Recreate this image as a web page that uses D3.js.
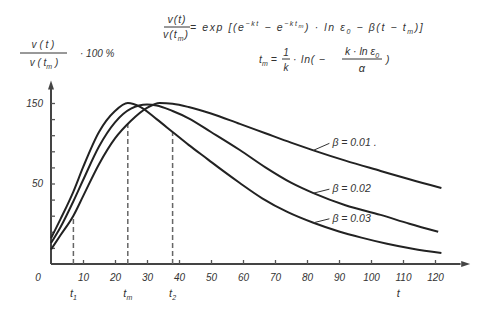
<!DOCTYPE html>
<html><head><meta charset="utf-8">
<script src="https://cdn.jsdelivr.net/npm/d3@7"></script>
<style>
html,body{margin:0;padding:0;background:#fff;}
svg{display:block;}
text{font-family:"Liberation Sans",Arial,sans-serif;font-style:italic;fill:#333;}
</style></head>
<body>
<script>
// ---- data ----
const tB003 = [0,3,7,10,15,20,24,28,33,38,43,49,54,59,66,74,82,90,97,105,113,122];
const vB003 = [16,28,45,60,82,95,100,97.5,90,82,74,65,57.5,50.3,40.8,32.2,25.6,20.2,16.4,12.6,9.5,6.8];
const tB002 = [0,3,7,10,15,20,25,30,33,38,43,50,59,67,75,82,92,103,112,121];
const vB002 = [13,23,39,52,73,88,96.5,99,98.5,95,90.5,82,70.8,60,50.5,44,36.5,30.5,25,20];
const tB001 = [0,3,7,10,15,20,25,30,34,38,43,50,59,67,75,82,92,103,112,122];
const vB001 = [9,18,30,42,62,78,89,97,100,99.5,97.5,93.5,87,81.2,75.4,70.6,64.2,57.8,52.6,47.2];
const seriesLabels = ["β = 0.01 .","β = 0.02","β = 0.03"];
const labelAnchorT = [82,82,82];
const xTicks = [10,20,30,40,50,60,70,80,90,100,110,120];
const yTicks = [10,20,30,40,50,60,70,80,90,100];
const yTickLabels = {50:"50",100:"150"};
const markT = [7,24,38];
const markV = [29,88,82];
const markNames = [["t","1"],["t","m"],["t","2"]];

const W=484,H=316;
const svg=d3.select("body").append("svg").attr("width",W).attr("height",H);
const x=d3.scaleLinear().domain([0,120]).range([51,435]);
const y=d3.scaleLinear().domain([0,100]).range([264,103]);
const ink="#222", axisC="#444";

// axes lines with arrows
svg.append("line").attr("x1",x(0)).attr("x2",x(128)).attr("y1",y(0)).attr("y2",y(0))
  .attr("stroke",axisC).attr("stroke-width",2);
svg.append("path").attr("d",`M${x(131)},${y(0)}l-9,-3l0,6z`).attr("fill",axisC);
svg.append("line").attr("x1",x(0)).attr("x2",x(0)).attr("y1",y(0)).attr("y2",y(111))
  .attr("stroke",axisC).attr("stroke-width",2);
svg.append("path").attr("d",`M${x(0)},${y(114)}l-3,9l6,0z`).attr("fill",axisC);

// x axis ticks
const gx=svg.append("g").attr("transform",`translate(0,${y(0)})`)
  .call(d3.axisBottom(x).tickValues(xTicks).tickSize(-4).tickPadding(10).tickFormat(d=>d));
gx.select(".domain").remove();
gx.selectAll(".tick line").attr("stroke","#555").attr("stroke-width",1.3);
gx.selectAll(".tick text").attr("font-size",10).attr("fill","#333").attr("font-family","Liberation Sans").attr("font-style","italic");
svg.append("text").attr("x",x(0)-13).attr("y",y(0)+17).attr("text-anchor","middle").attr("font-size",10).text("0");

// y axis ticks
const gy=svg.append("g").attr("transform",`translate(${x(0)},0)`)
  .call(d3.axisLeft(y).tickValues(yTicks).tickSize(-4).tickPadding(8).tickFormat(d=>yTickLabels[d]||""));
gy.select(".domain").remove();
gy.selectAll(".tick line").attr("stroke","#555").attr("stroke-width",1.3);
gy.selectAll(".tick text").attr("font-size",10).attr("fill","#333").attr("font-family","Liberation Sans").attr("font-style","italic");

// dashed markers
markT.forEach((t,i)=>{
  svg.append("line").attr("x1",x(t)).attr("x2",x(t)).attr("y1",y(0)).attr("y2",y(markV[i]))
    .attr("stroke","#666").attr("stroke-width",1.5).attr("stroke-dasharray","5,3");
  const tx=svg.append("text").attr("x",x(t)).attr("y",y(0)+33).attr("text-anchor","middle").attr("font-size",11);
  tx.append("tspan").text(markNames[i][0]);
  tx.append("tspan").attr("font-size",7).attr("dy",3).text(markNames[i][1]);
});
svg.append("text").attr("x",x(108.5)).attr("y",y(0)+33).attr("text-anchor","middle").attr("font-size",11).text("t");

// curves
const line=d3.line().x(d=>x(d[0])).y(d=>y(d[1])).curve(d3.curveMonotoneX);
const series=[[tB001,vB001],[tB002,vB002],[tB003,vB003]];
series.forEach(s=>{
  svg.append("path").datum(s[0].map((t,i)=>[t,s[1][i]])).attr("d",line)
    .attr("fill","none").attr("stroke",ink).attr("stroke-width",2);
});

// series labels with leaders
const labelDy=[-7,-4,-4];
series.forEach((s,i)=>{
  const t=labelAnchorT[i];
  const v=d3.scaleLinear().domain(s[0]).range(s[1])(t);
  const px=x(t), py=y(v);
  svg.append("line").attr("x1",px).attr("y1",py).attr("x2",px+16).attr("y2",py+labelDy[i])
    .attr("stroke","#333").attr("stroke-width",1);
  svg.append("text").attr("x",px+19).attr("y",py+labelDy[i]+3).attr("font-size",10.5).text(seriesLabels[i]);
});

// y label fraction
const yl=svg.append("g");
yl.append("text").attr("x",43).attr("y",48).attr("text-anchor","middle").attr("font-size",10).text("v ( t )");
yl.append("line").attr("x1",20).attr("x2",67).attr("y1",53).attr("y2",53).attr("stroke","#333").attr("stroke-width",1);
const yd=yl.append("text").attr("x",44).attr("y",66).attr("text-anchor","middle").attr("font-size",10);
yd.append("tspan").text("v ( t");
yd.append("tspan").attr("font-size",7).attr("dy",3).text("m");
yd.append("tspan").attr("dy",-3).text(" )");
yl.append("text").attr("x",80).attr("y",57).attr("font-size",10).text("· 100 %");

// formula 1
const f=svg.append("g");
f.append("text").attr("x",177).attr("y",23).attr("text-anchor","middle").attr("font-size",10.5).attr("letter-spacing",1).text("v(t)");
f.append("line").attr("x1",164).attr("x2",190).attr("y1",27).attr("y2",27).attr("stroke","#333").attr("stroke-width",1);
const fd=f.append("text").attr("x",176).attr("y",38).attr("text-anchor","middle").attr("font-size",10.5).attr("letter-spacing",1);
fd.append("tspan").text("v(t");
fd.append("tspan").attr("font-size",7).attr("dy",3).text("m");
fd.append("tspan").attr("dy",-3).text(")");
const f1=f.append("text").attr("x",190).attr("y",31).attr("font-size",10.5).attr("letter-spacing",1.6);
f1.append("tspan").text("= exp [(e");
f1.append("tspan").attr("font-size",7).attr("dy",-5).text("−kt");
f1.append("tspan").attr("dy",5).text(" − e");
f1.append("tspan").attr("font-size",7).attr("dy",-5).text("−kt");
f1.append("tspan").attr("font-size",6).attr("dy",2).text("m");
f1.append("tspan").attr("dy",3).text(") · ln ε");
f1.append("tspan").attr("font-size",7).attr("dy",3).text("0");
f1.append("tspan").attr("dy",-3).text(" − β(t − t");
f1.append("tspan").attr("font-size",7).attr("dy",3).text("m");
f1.append("tspan").attr("dy",-3).text(")]");

// formula 2
const g2=svg.append("g");
const t2=g2.append("text").attr("x",259).attr("y",63).attr("font-size",10.5);
t2.append("tspan").text("t");
t2.append("tspan").attr("font-size",7).attr("dy",3).text("m");
t2.append("tspan").attr("dy",-3).text(" =");
g2.append("text").attr("x",286).attr("y",56).attr("text-anchor","middle").attr("font-size",10).text("1");
g2.append("line").attr("x1",282).attr("x2",290).attr("y1",59).attr("y2",59).attr("stroke","#333").attr("stroke-width",1);
g2.append("text").attr("x",286).attr("y",71).attr("text-anchor","middle").attr("font-size",10).text("k");
g2.append("text").attr("x",293).attr("y",63).attr("font-size",10.5).attr("letter-spacing",0.8).text("· ln( −");
const n2=g2.append("text").attr("x",362).attr("y",55).attr("text-anchor","middle").attr("font-size",10.5);
n2.append("tspan").text("k · ln ε");
n2.append("tspan").attr("font-size",7).attr("dy",3).text("0");
g2.append("line").attr("x1",342).attr("x2",382).attr("y1",59).attr("y2",59).attr("stroke","#333").attr("stroke-width",1);
g2.append("text").attr("x",362).attr("y",72).attr("text-anchor","middle").attr("font-size",11).text("α");
g2.append("text").attr("x",386).attr("y",63).attr("font-size",10.5).text(")");
</script>
</body></html>
